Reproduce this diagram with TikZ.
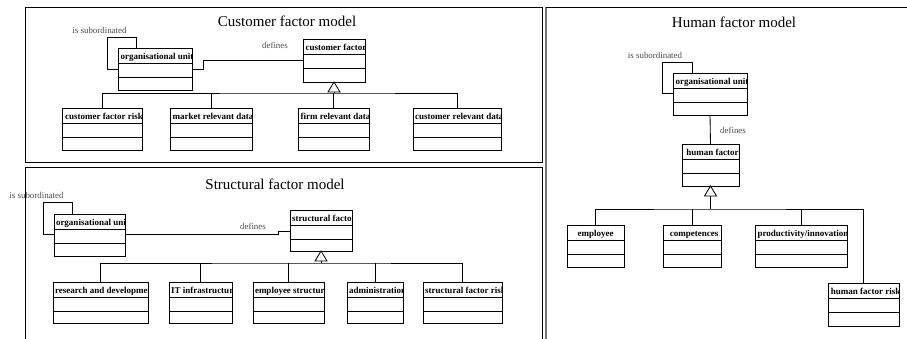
\documentclass[tikz,border=0pt]{standalone}
\usepackage{fontspec}
\setmainfont{Liberation Serif}
\newcommand\hdrfont{\fontsize{9}{10}\selectfont\bfseries}
\tikzset{
  clsbox/.style={draw, line width=0.9pt, rectangle, inner sep=0pt, outer sep=0pt, anchor=north west},
  hdrL/.style={anchor=base west, inner sep=0pt, font=\hdrfont, at={([xshift=2pt,yshift=-11pt]path picture bounding box.north west)}},
  hdrC/.style={anchor=base, inner sep=0pt, font=\hdrfont, at={([yshift=-11pt]path picture bounding box.north)}},
  conn/.style={line width=0.85pt},
  panel/.style={line width=0.95pt},
  lbl/.style={font=\fontsize{8.9}{10}\selectfont, text=black!70, inner sep=0pt, anchor=base},
  ttl/.style={font=\fontsize{15}{18}\selectfont, inner sep=0pt, anchor=base},
}
% name, x, y, width, height, text, header style
\newcommand\umlcls[7]{%
  \node[clsbox, minimum width=#4pt, minimum height=#5pt,
        path picture={\node[#7] {#6};}] (#1) at (#2,#3) {};
  \draw[conn] ([yshift=-15.5pt]#1.north west) -- ([yshift=-15.5pt]#1.north east);
  \draw[conn] ([yshift=-29pt]#1.north west) -- ([yshift=-29pt]#1.north east);
}
% generalisation triangle under parent #1, triangle base coordinate #2
\newcommand\gentri[2]{%
  \draw[conn, fill=white] (#1.south) -- ++(-6pt,-10pt) -- ++(12pt,0pt) -- cycle;
  \coordinate (#2) at ([yshift=-10pt]#1.south);
}
\begin{document}
\begin{tikzpicture}[x=1pt, y=-1pt]
\clip (0,0) rectangle (907,338);
\fill[white] (0,0) rectangle (907,338);

% ---------------- panels ----------------
\draw[panel] (25,7) rectangle (542,162);
\draw[panel] (25,345) -- (25,167) -- (542,167) -- (542,345);
\draw[panel, black!55, line width=1.2pt] (546,345) -- (546,7);
\draw[panel] (546,7) -- (912,7);

% ---------------- Customer factor model ----------------
\node[ttl] (t1) at (287,26) {Customer factor model};
\umlcls{ou1}{118}{48}{74}{42}{organisational unit}{hdrL}
\umlcls{cf1}{303}{39}{62}{43}{customer factor}{hdrL}
\umlcls{c1}{62}{108}{80}{42}{customer factor risk}{hdrL}
\umlcls{c2}{170}{108}{82}{42}{market relevant data}{hdrL}
\umlcls{c3}{298}{108}{71}{42}{firm relevant data}{hdrL}
\umlcls{c4}{413}{108}{88}{42}{customer relevant data}{hdrL}
\node[lbl] (sub1) at (99.5,33.5) {is subordinated};
\node[lbl] (def1) at (275,48.5) {defines};
\draw[conn] ([xshift=18pt]ou1.north west) -- ++(0pt,11pt)
  -| ([xshift=-11pt,yshift=-21pt]ou1.north west) -- ([yshift=-21pt]ou1.north west);
\draw[conn] ([yshift=-21pt]ou1.north east) -- ++(11pt,0pt) |- ([yshift=-21pt]cf1.north west);
\gentri{cf1}{tb1}
\coordinate (b1) at ([yshift=-1pt]tb1);
\draw[conn] (tb1) -- (b1);
\draw[conn] (c1.north) |- (b1) -| (c4.north);
\draw[conn] (c2.north) -- (c2.north |- b1);
\draw[conn] (c3.north) -- (c3.north |- b1);

% ---------------- Structural factor model ----------------
\node[ttl] (t2) at (275,189) {Structural factor model};
\umlcls{ou2}{54}{214}{71}{42}{organisational unit}{hdrL}
\umlcls{sf}{290}{210}{62}{41}{structural factor}{hdrL}
\umlcls{s1}{53}{282}{95}{41}{research and development}{hdrL}
\umlcls{s2}{169}{282}{63}{41}{IT infrastructure}{hdrL}
\umlcls{s3}{253}{282}{71}{41}{employee structure}{hdrL}
\umlcls{s4}{347}{282}{56}{41}{administration}{hdrL}
\umlcls{s5}{423}{282}{79}{41}{structural factor risk}{hdrL}
\node[lbl] (sub2) at (36.5,198.5) {is subordinated};
\node[lbl] (def2) at (253,229.5) {defines};
\draw[conn] ([xshift=18pt]ou2.north west) -- ++(0pt,12pt)
  -| ([xshift=-11pt,yshift=-20pt]ou2.north west) -- ([yshift=-20pt]ou2.north west);
\draw[conn] ([yshift=-20pt]ou2.north east) -- ++(153pt,0pt) |- ([yshift=-21pt]sf.north west);
\gentri{sf}{tb2}
\coordinate (b2) at ([yshift=-2pt]tb2);
\draw[conn] (tb2) -- (b2);
\draw[conn] (s1.north) |- (b2) -| (s5.north);
\draw[conn] (s2.north) -- (s2.north |- b2);
\draw[conn] (s3.north) -- (s3.north |- b2);
\draw[conn] (s4.north) -- (s4.north |- b2);

% ---------------- Human factor model ----------------
\node[ttl] (t3) at (734,27) {Human factor model};
\umlcls{ou3}{673}{73}{74}{42}{organisational unit}{hdrL}
\umlcls{hf}{682}{144}{57}{42}{human factor}{hdrL}
\umlcls{h1}{567}{225}{57}{42}{employee}{hdrC}
\umlcls{h2}{663}{225}{58}{42}{competences}{hdrL}
\umlcls{h3}{755}{225}{92}{42}{productivity/innovation}{hdrL}
\umlcls{h4}{828}{283}{71}{43}{human factor risk}{hdrL}
\node[lbl] (sub3) at (655,58.5) {is subordinated};
\node[lbl] (def3) at (733,133.5) {defines};
\draw[conn] ([xshift=19pt]ou3.north west) -- ++(0pt,11pt)
  -| ([xshift=-11pt,yshift=-20pt]ou3.north west) -- ([yshift=-20pt]ou3.north west);
\draw[conn] (ou3.south) -- (hf.north);
\gentri{hf}{tb3}
\coordinate (b3) at ([yshift=-13pt]tb3);
\draw[line width=1.8pt] (tb3) -- (b3);
\draw[conn] (h1.north) |- (b3) -| (h4.north);
\draw[conn] (h2.north) -- (h2.north |- b3);
\draw[conn] (h3.north) -- (h3.north |- b3);
\end{tikzpicture}
\end{document}
